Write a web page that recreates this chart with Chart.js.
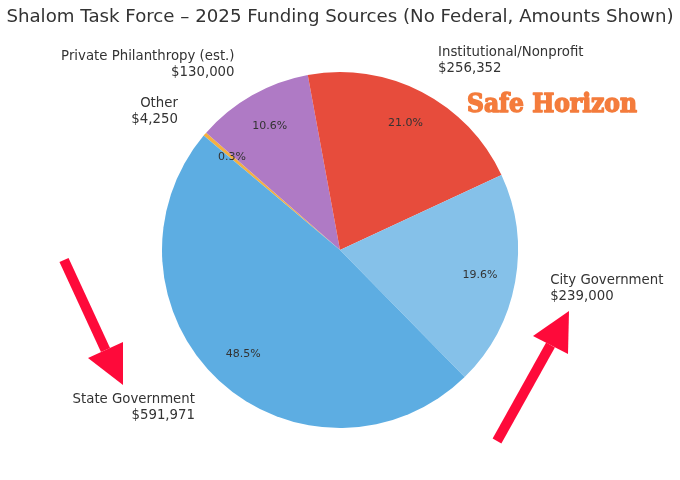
<!DOCTYPE html>
<html>
<head>
<meta charset="utf-8">
<script src="https://cdn.jsdelivr.net/npm/chart.js@4"></script>
<style>
	html, body { margin: 0; padding: 0; background: #fff; }
	#wrap { width: 680px; height: 480px; }
</style>
</head>
<body>
<div id="wrap"><canvas id="myChart" width="680" height="480"></canvas></div>
<script>
// slices in clockwise order, starting at the "Other" sliver
const sources = ['Other', 'Private Philanthropy (est.)', 'Institutional/Nonprofit', 'City Government', 'State Government'];
const amounts = [4250, 130000, 256352, 239000, 591971];
const sliceColors = ['#f5b041', '#af7ac5', '#e74c3c', '#85c1e9', '#5dade2'];
const titleText = 'Shalom Task Force \u2013 2025 Funding Sources (No Federal, Amounts Shown)';
const brandText = 'Safe Horizon';

function money(v) {
	return '$' + v.toLocaleString('en-US');
}

//labels outside and percentages inside, like the matplotlib pie
const pieLabels = {
	id: 'pieLabels',
	afterDatasetsDraw(chart) {
		var ctx = chart.ctx;
		var meta = chart.getDatasetMeta(0);
		var total = amounts.reduce((a, b) => a + b, 0);
		ctx.save();
		meta.data.forEach(function (arc, i) {
			var p = arc.getProps(['x', 'y', 'startAngle', 'endAngle', 'outerRadius'], true);
			var mid = (p.startAngle + p.endAngle) / 2;
			var r = p.outerRadius;

			// percent text
			ctx.fillStyle = '#333';
			ctx.font = '11px "DejaVu Sans"';
			ctx.textAlign = 'center';
			ctx.textBaseline = 'middle';
			var pct = (amounts[i] / total * 100).toFixed(1) + '%';
			ctx.fillText(pct, p.x + Math.cos(mid) * r * 0.8, p.y + Math.sin(mid) * r * 0.8);

			// name + amount
			var lx = p.x + Math.cos(mid) * r * 1.2;
			var ly = p.y + Math.sin(mid) * r * 1.2;
			ctx.font = '13.3px "DejaVu Sans"';
			ctx.textAlign = Math.cos(mid) > 0 ? 'left' : 'right';
			ctx.fillText(sources[i], lx, ly - 7.5);
			ctx.fillText(money(amounts[i]), lx, ly + 8.5);
		});
		ctx.restore();
	}
};

//title, brand text and the two red arrows
const extras = {
	id: 'extras',
	afterDraw(chart) {
		var ctx = chart.ctx;
		ctx.save();
		ctx.fillStyle = '#333';
		ctx.font = '18.2px "DejaVu Sans"';
		ctx.textAlign = 'center';
		ctx.textBaseline = 'middle';
		ctx.fillText(titleText, 340, 17);

		// heavy slab look: fill plus a thin stroke of the same colour
		ctx.fillStyle = '#f47c3c';
		ctx.strokeStyle = '#f47c3c';
		ctx.lineWidth = 1.4;
		ctx.lineJoin = 'round';
		ctx.font = 'bold 26px "DejaVu Serif Condensed", "DejaVu Serif"';
		ctx.textAlign = 'left';
		ctx.textBaseline = 'alphabetic';
		ctx.fillText(brandText, 467, 112);
		ctx.strokeText(brandText, 467, 112);

		var arrows = [
			{ from: [64, 260], base1: [88, 358], base2: [123, 342], tip: [123, 385] },
			{ from: [497, 441], base1: [533, 336], base2: [568, 354], tip: [569, 311] }
		];
		ctx.fillStyle = '#fe0a3a';
		ctx.strokeStyle = '#fe0a3a';
		ctx.lineWidth = 10;
		ctx.lineJoin = 'miter';
		arrows.forEach(function (a) {
			var bx = (a.base1[0] + a.base2[0]) / 2;
			var by = (a.base1[1] + a.base2[1]) / 2;
			ctx.beginPath();
			ctx.moveTo(a.from[0], a.from[1]);
			ctx.lineTo(bx, by);
			ctx.stroke();
			ctx.beginPath();
			ctx.moveTo(a.base1[0], a.base1[1]);
			ctx.lineTo(a.tip[0], a.tip[1]);
			ctx.lineTo(a.base2[0], a.base2[1]);
			ctx.closePath();
			ctx.fill();
		});
		ctx.restore();
	}
};

var ctx = document.getElementById('myChart').getContext('2d');
var chart = new Chart(ctx, {
	type: 'pie',
	data: {
		labels: sources,
		datasets: [{
			data: amounts,
			backgroundColor: sliceColors,
			borderWidth: 0
		}]
	},
	options: {
		responsive: false,
		animation: false,
		rotation: -50,
		layout: {
			padding: { top: 72, bottom: 52, left: 162, right: 162 }
		},
		plugins: {
			legend: { display: false },
			tooltip: { enabled: false },
			title: { display: false }
		}
	},
	plugins: [pieLabels, extras]
});
</script>
</body>
</html>
